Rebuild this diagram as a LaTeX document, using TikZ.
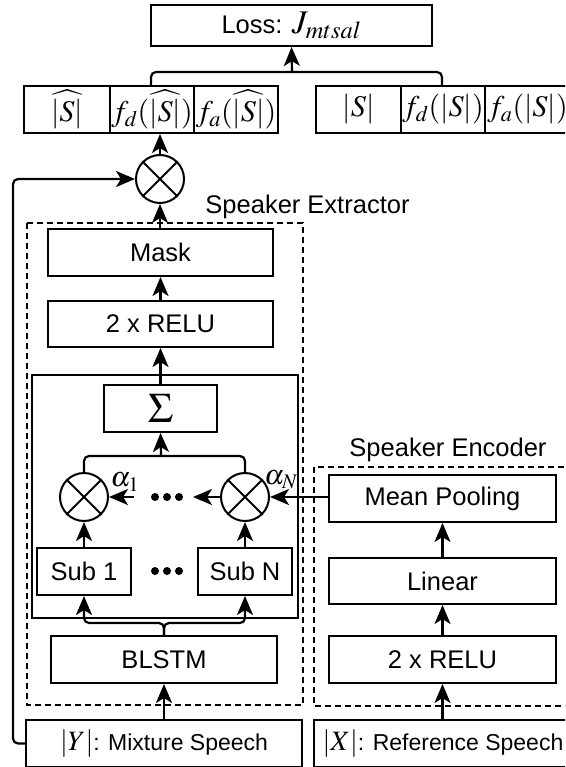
\documentclass[tikz,border=0pt]{standalone}
\usepackage{mathptmx}
\usepackage{fontspec}
\setmainfont{Liberation Sans}
\usetikzlibrary{arrows.meta,calc}
\tikzset{
  txt/.style={font=\fontsize{25.5}{30}\selectfont, inner sep=0pt},
  box/.style={draw, line width=2pt, rectangle, inner sep=0pt, font=\fontsize{25.5}{30}\selectfont},
  sbox/.style={box, font=\fontsize{23}{28}\selectfont},
  mbox/.style={box, font=\fontsize{30}{35}\selectfont, minimum width=84pt, minimum height=47pt},
  mult/.style={draw, line width=2pt, circle, minimum size=48pt, inner sep=0pt},
  conn/.style={line width=2.2pt},
  arr/.style={conn, -{Stealth[length=19pt,width=16pt,inset=5pt]}},
  rc/.style={rounded corners=5pt},
  group/.style={draw, line width=2pt, dash pattern=on 6pt off 4pt},
}
\newcommand{\crossit}[1]{\draw[line width=2pt] (#1.north east) -- (#1.south west) (#1.north west) -- (#1.south east);}
\begin{document}
\begin{tikzpicture}[x=1pt,y=-1pt]
\useasboundingbox (0,0) rectangle (565,767);
\clip (0,0) rectangle (565,767);
\fill[white] (0,0) rectangle (565,767);

% groups
\draw[group] (27,223) rectangle (303,705);
\draw[group] (314,467) rectangle (600,706);
\draw[line width=2pt] (32,375) rectangle (298,618);
\node[txt] (extlabel) at (307.5,207) {Speaker Extractor};
\node[txt] (enclabel) at (448,450) {Speaker Encoder};

% top
\node[box, minimum width=281pt, minimum height=41pt] (loss) at (291.5,25.5) {Loss: {\fontsize{33}{38}\selectfont$J_{mtsal}$}};
\node[mbox, minimum width=86pt] (a1) at (67,109.5) {$\widehat{|S|}$};
\node[mbox] (a2) at (152,109.5) {$f_d(\widehat{|S|})$};
\node[mbox] (a3) at (236,109.5) {$f_a(\widehat{|S|})$};
\node[mbox, minimum width=85pt] (b1) at (358.5,109.5) {$|S|$};
\node[mbox] (b2) at (443,109.5) {$f_d(|S|)$};
\node[mbox, minimum width=85pt] (b3) at (527.5,109.5) {$f_a(|S|)$};

\node[mult] (m0) at (160,179) {};
\crossit{m0}

% extractor
\node[box, minimum width=225pt, minimum height=47pt] (mask) at (160.5,252.5) {Mask};
\node[box, minimum width=225pt, minimum height=46pt] (relu1) at (160.5,324) {2 x RELU};
\node[box, minimum width=113pt, minimum height=47pt, font=\fontsize{42}{46}\selectfont] (sigma) at (160.5,408.5) {$\Sigma$};
\node[mult] (c1) at (84,497) {};
\crossit{c1}
\node[mult] (cN) at (245,497) {};
\crossit{cN}
\node[box, minimum width=94pt, minimum height=47pt] (sub1) at (84,571.5) {Sub 1};
\node[box, minimum width=94pt, minimum height=47pt] (subN) at (245,571.5) {Sub N};
\node[box, minimum width=226pt, minimum height=47pt] (blstm) at (164,659.5) {BLSTM};
\node[sbox, minimum width=276pt, minimum height=47pt] (mix) at (164,743.5) {{\fontsize{28}{33}\selectfont$|Y|$}: Mixture Speech};

\foreach \xx in {155,167,179} {
  \fill (\xx,497) circle (4pt);
  \fill (\xx,571) circle (4pt);
}
\node[inner sep=0pt, font=\fontsize{28}{32}\selectfont] (al1) at (125,482) {$\alpha_1$};
\node[inner sep=0pt, font=\fontsize{28}{32}\selectfont] (alN) at (281,480) {$\alpha_N$};

% encoder
\node[box, minimum width=227pt, minimum height=47pt] (mean) at (442.5,498.5) {Mean Pooling};
\node[box, minimum width=227pt, minimum height=46pt] (lin) at (442.5,581) {Linear};
\node[box, minimum width=227pt, minimum height=47pt] (relu2) at (442.5,659.5) {2 x RELU};
\node[sbox, minimum width=258pt, minimum height=47pt] (ref) at (443,743.5) {{\fontsize{28}{33}\selectfont$|X|$}: Reference Speech};

% connectors
\coordinate (busc) at (292,72);
\draw[conn, rc] (151,86) |- (busc) -| (442,86);
\draw[arr] (busc) -- (loss.south);
\draw[arr] (m0.north) -- (m0.north |- a2.south);
\draw[arr, rc] (mix.west) -- ++(-12,0) |- (m0.west);
\draw[arr] (mask.north -| m0.south) -- (m0.south);
\draw[arr] (relu1.north) -- (mask.south);
\draw[arr] (sigma.north) -- (relu1.south);
\coordinate (sbus) at (161,456);
\draw[conn, rc] (c1.north) |- (sbus) -| (cN.north);
\draw[arr] (sbus) -- (sigma.south);
\draw[arr] (sub1.north) -- (c1.south);
\draw[arr] (subN.north) -- (cN.south);
\coordinate (bbus) at (164,623);
\draw[arr, rc] (blstm.north) -- (bbus) -| (sub1.south);
\draw[arr, rc] (blstm.north) -- (bbus) -| (subN.south);
\draw[arr] (mix.north) -- (blstm.south);
\draw[arr] (mean.west |- cN.east) -- (cN.east);
\coordinate (dN) at (193,497);
\coordinate (d1) at (134,497);
\draw[arr] (cN.west) -- (dN);
\draw[arr] (d1) -- (c1.east);
\draw[arr] (ref.north -| relu2.south) -- (relu2.south);
\draw[arr] (relu2.north) -- (lin.south);
\draw[arr] (lin.north) -- (mean.south);
\end{tikzpicture}
\end{document}
